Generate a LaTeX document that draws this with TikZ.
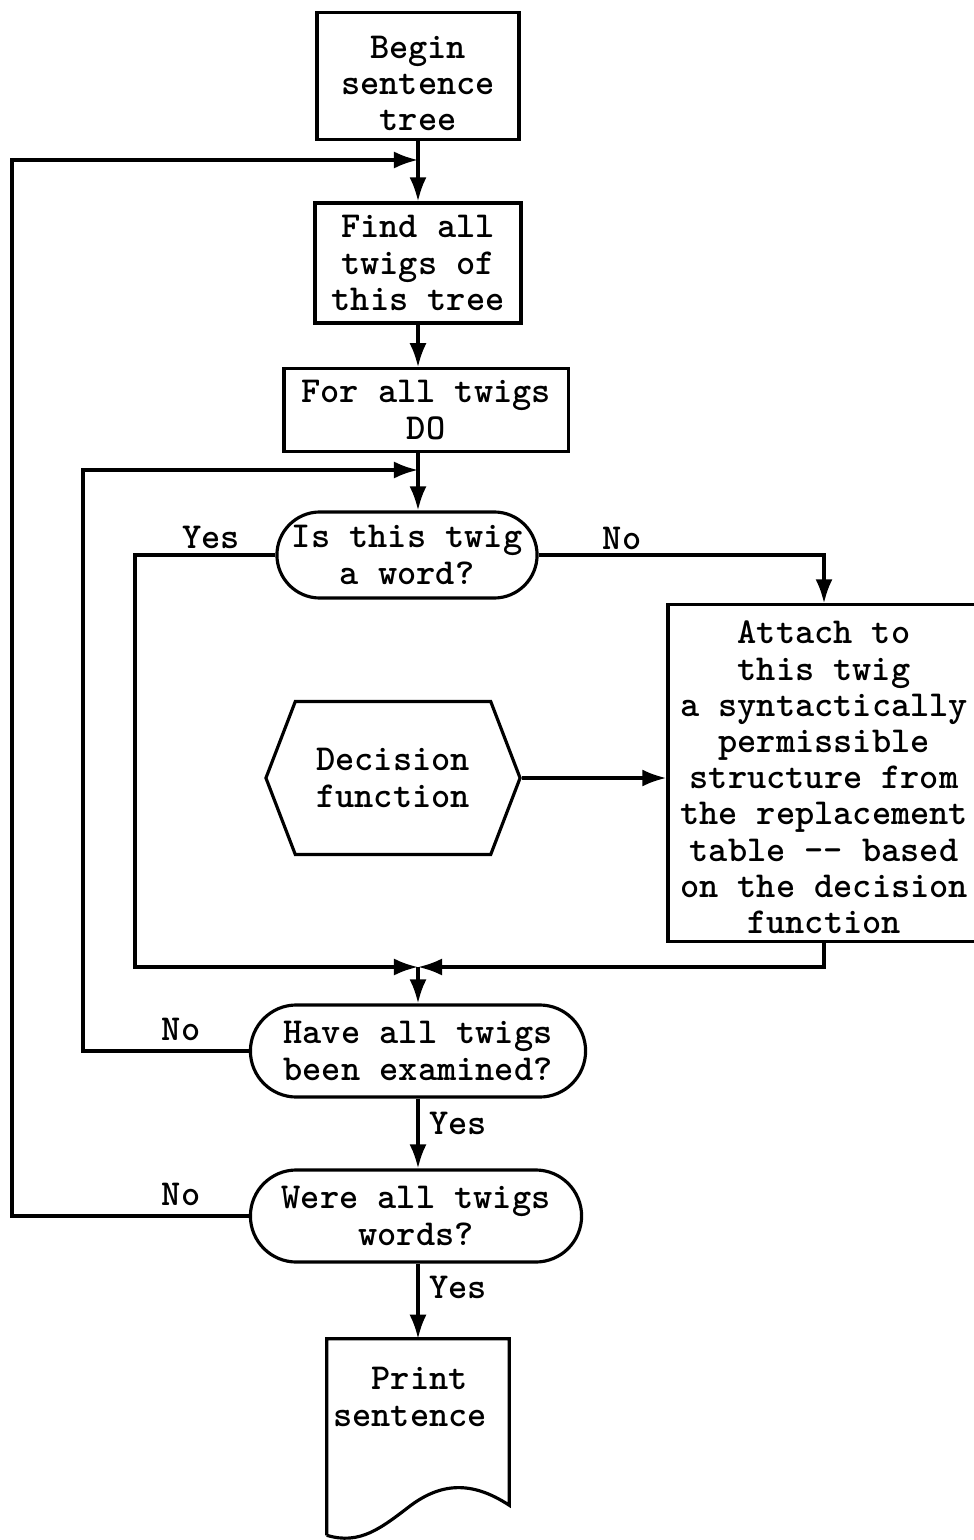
\documentclass[tikz,border=0pt]{standalone}
\usetikzlibrary{arrows.meta,shapes.symbols}
\newcommand{\flowfont}{\ttfamily\bfseries\fontsize{10.4}{10.3}\selectfont}
\tikzset{
  line/.style={line width=0.9pt},
  arr/.style={line,-{Latex[length=0.24cm,width=0.17cm]}},
  txt/.style={font=\flowfont,align=center,inner sep=0pt},
  box/.style={draw,line,font=\flowfont,align=center},
  ask/.style={box,rounded corners=#1},
  hexa/.style={box,signal,signal to=west and east,signal pointer angle=138},
}
\begin{document}
\begin{tikzpicture}[x=0.01cm,y=-0.01cm]
\useasboundingbox (0,0) rectangle (974,1540);

\node[box,inner ysep=0pt,minimum width=2.02cm,minimum height=1.27cm] (begin) at (418,76) {\rule{0pt}{10.5pt}Begin\\sentence\\tree};
\node[box,minimum width=2.06cm,minimum height=1.20cm] (find) at (418,263) {Find all\\twigs of\\this tree};
\node[box,minimum width=2.84cm,minimum height=0.75cm] (forall) at (426,410) {For all twigs\\DO};
\node[ask=0.43cm,minimum width=2.60cm,minimum height=0.86cm] (isword) at (407,555) {Is this twig\\a word?};
\node[box,inner ysep=0pt,minimum width=3.12cm,minimum height=3.36cm] (attach) at (824,773)
  {\rule{0pt}{9pt}Attach to\\this twig\\a syntactically\\permissible\\structure from\\the replacement\\table -\kern0pt- based\\on the decision\\function};
\node[hexa,minimum width=2.54cm,minimum height=1.53cm] (decision) at (393,778) {Decision\\function};
\node[ask=0.46cm,minimum width=3.35cm,minimum height=0.92cm] (haveall) at (418,1051) {Have all twigs\\been examined?};
\node[ask=0.46cm,minimum width=3.31cm,minimum height=0.92cm] (wereall) at (416,1216) {Were all twigs\\words?};
\node[minimum width=1.81cm,minimum height=1.65cm,inner sep=0pt] (print) at (418,1422) {};
\node[txt,align=left] (printtxt) at (410,1397) {~~Print\\sentence};

\draw[line] ([yshift=-0.3cm]print.south west) -- (print.north west) -- (print.north east) -- (print.south east)
  .. controls +(-38,-25) and +(30,-22) .. ([xshift=-0.07cm]print.south)
  .. controls +(-30,23) and +(33,10) .. ([yshift=-0.3cm]print.south west);

\node[txt] (yes1) at (211,537) {Yes};
\node[txt] (no1) at (622,538) {No};
\node[txt] (no2) at (181,1029) {No};
\node[txt] (yes2) at (458,1123) {Yes};
\node[txt] (no3) at (181,1194) {No};
\node[txt] (yes3) at (458,1287) {Yes};

\coordinate (farleft) at (12,0);
\coordinate (midleft) at (83,0);
\coordinate (inleft) at (135,0);
\coordinate (j1) at (418,160);
\coordinate (j2) at (418,470);
\coordinate (j3) at (418,967);

\draw[arr] (begin.south) -- (find.north);
\draw[arr] (find.south) -- (find.south |- forall.north);
\draw[arr] (j2 |- forall.south) -- (j2 |- isword.north);
\draw[arr] (wereall.west) -- (wereall.west -| farleft) |- (j1);
\draw[arr] (haveall.west) -- (haveall.west -| midleft) |- (j2);
\draw[arr] (isword.west) -- (isword.west -| inleft) |- (j3);
\draw[arr] (isword.east) -| (attach.north);
\draw[arr] (attach.south) |- (j3);
\draw[arr] (decision.east) -- (decision.east -| attach.west);
\draw[arr] (j3) -- (j3 |- haveall.north);
\draw[arr] (haveall.south) -- (wereall.north -| haveall.south);
\draw[arr] (wereall.south -| print.north) -- (print.north);
\end{tikzpicture}
\end{document}
